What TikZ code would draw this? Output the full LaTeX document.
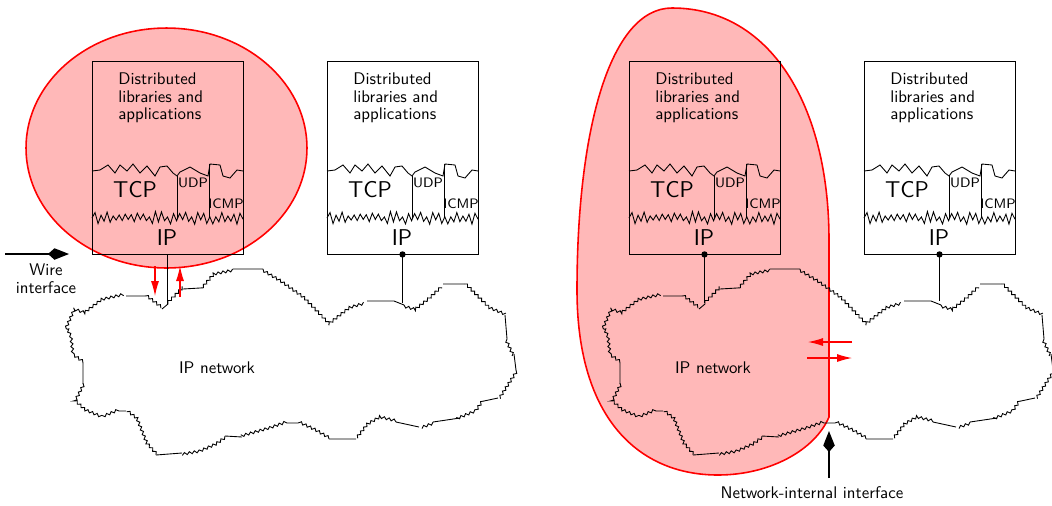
\documentclass[tikz,border=0pt]{standalone}
\usepackage{tikz}
\usetikzlibrary{arrows.meta,calc,decorations.pathmorphing}

\tikzset{
  stackbox/.style={draw, line width=0.5pt, minimum width=3.02cm, minimum height=3.86cm, inner sep=0pt},
  layerline/.style={line width=0.5pt},
  cloudflat/.style={line width=0.5pt},
  cloudline/.style={line width=0.5pt, decorate, decoration={snake, segment length=0.1cm, amplitude=0.025cm}},
  zone/.style={draw=red, line width=0.9pt, fill=red!28},
  redarrow/.style={red, line width=0.6pt, -{Latex[length=0.3cm,width=0.16cm]}},
  iface/.style={line width=0.8pt, -{Kite[length=0.42cm,width=0.23cm,inset=0.13cm]}},
  link/.style={line width=1.1pt},
  big/.style={inner sep=0pt, font=\sffamily\fontsize{13}{13}\selectfont},
  tiny/.style={inner sep=0pt, font=\sffamily\fontsize{7.8}{8}\selectfont},
}

\begin{document}
\begin{tikzpicture}[x=0.02cm, y=-0.02cm, font=\sffamily\fontsize{9.6}{10}\selectfont]
\useasboundingbox (0,0) rectangle (1052,505);

% shaded parts
\draw[zone] (166.5,148) ellipse [x radius=2.81cm, y radius=2.4cm];
\draw[zone] (829,417) -- (829,240) .. controls (829,105) and (770,8) .. (672,8)
  .. controls (610,8) and (577,130) .. (577,290)
  .. controls (577,420) and (640,475) .. (718,475)
  .. controls (770,475) and (815,450) .. (829,417) -- cycle;

% the two networks
\foreach \sx in {0,537} {
\begin{scope}[shift={(\sx,0)}]
\draw[cloudline] (66,328) -- (74,310) -- (87,314) -- (104,301) -- (126,296)
  (145,296) -- (162,309)
  (168,304) -- (183,289)
  (200,288) -- (213,273) -- (233,269)
  (263,269) -- (280,279) -- (304,296) -- (330,323) -- (353,305) -- (367,301)
  (404,305) -- (415,308) -- (429,297) -- (443,284)
  (464,284) -- (477,297) -- (488,308) -- (505,315)
  (507,339) -- (514,354)
  (516,370) -- (498,398)
  (484,401) -- (477,411) -- (460,418)
  (433,422) -- (419,427)
  (396,422) -- (379,418) -- (367,425) -- (356,439)
  (329,439) -- (315,431) -- (298,423)
  (287,423) -- (270,429) -- (242,437)
  (225,436) -- (215,443) -- (199,450) -- (182,453)
  (156,455) -- (145,443) -- (135,418) -- (126,411)
  (119,411) -- (102,418) -- (85,411) -- (74,401) -- (83,384)
  (83,363) -- (73,356) -- (71,339) -- (66,328);
\draw[cloudflat] (126,296) -- (145,296) (162,309) -- (168,304) (183,289) -- (200,288)
  (233,269) -- (263,269) (367,301) -- (394,301) -- (404,305) (443,284) -- (464,284)
  (505,315) -- (507,339) (514,354) -- (516,370) (498,398) -- (484,401)
  (460,418) -- (433,422) (419,427) -- (396,422) (356,439) -- (329,439)
  (298,423) -- (287,423) (242,437) -- (225,436) (182,453) -- (156,455)
  (126,411) -- (119,411) (83,384) -- (83,363);
\end{scope}
}
\node (net1) at (217,368) {IP network};
\node (net2) at (713,368) {IP network};

% protocol stacks
\foreach \bx/\n in {92/1,327/2,629/3,864/4} {
\begin{scope}[shift={(\bx,0)}]
\node[stackbox] (box\n) at (75.5,157.5) {};
\node[anchor=west, align=left, inner sep=0pt] (app\n) at (26,98) {Distributed\\libraries and\\applications};
\draw[layerline] (0,171) -- (8,170) -- (16,165) -- (23,173) -- (28,165) -- (35,171) -- (41,164)
  -- (48,173) -- (55,166) -- (63,176) -- (68,167) -- (75,166) -- (81,173) -- (85,176) -- (88,172)
  -- (98,167) -- (108,173) -- (116,176) -- (118,164) -- (128,165) -- (131,176) -- (138,178)
  -- (145,170) -- (151,171);
\pgfmathsetseed{4}
\draw[layerline] (0,218) \foreach \i in {1,...,50} {-- ({3.02*\i},{218+pow(-1,\i)*(1+5.5*rnd)})};
\draw[layerline] (85,176) -- (85,218);
\draw[layerline] (117,164) -- (117,218);
\node[big] (tcp\n) at (43,190) {TCP};
\node[tiny] (udp\n) at (101,183) {UDP};
\node[tiny] (icmp\n) at (134,204) {ICMP};
\node[big] (ip\n) at (75,238) {IP};
\end{scope}
}

% links to the network
\coordinate (att1) at (167.5,305);
\coordinate (att2) at (402.5,303);
\coordinate (att3) at (704.5,303);
\coordinate (att4) at (939.5,301);
\draw[link] (box1.south) -- (att1);
\foreach \n in {2,3,4} {
  \draw[link] (box\n.south) -- (att\n);
  \fill (box\n.south) circle (1.8pt);
}

% crossing traffic
\coordinate (dn1) at (155,266);
\coordinate (dn2) at (155,296);
\coordinate (up1) at (180,297);
\coordinate (up2) at (180,266);
\draw[redarrow] (dn1) -- (dn2);
\draw[redarrow] (up1) -- (up2);
\coordinate (lt1) at (852,342);
\coordinate (lt2) at (808,342);
\coordinate (rt1) at (807,358);
\coordinate (rt2) at (852,358);
\draw[redarrow] (lt1) -- (lt2);
\draw[redarrow] (rt1) -- (rt2);

% interfaces
\node[align=center] (wire) at (46,279) {Wire\\interface};
\coordinate (wirea) at (5,254);
\coordinate (wireb) at (69,254);
\draw[iface] (wirea) -- (wireb);
\node (netint) at (812,493) {Network-internal interface};
\coordinate (nia) at (829,478);
\coordinate (nib) at (829,431);
\draw[iface] (nia) -- (nib);
\end{tikzpicture}
\end{document}
